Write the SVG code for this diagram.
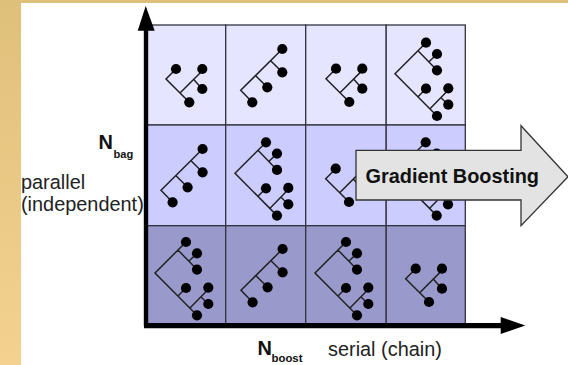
<svg xmlns="http://www.w3.org/2000/svg" width="568" height="365" viewBox="0 0 568 365">
  <style>
    .cell { stroke: #333340; stroke-width: 1.3; }
    .r0 { fill: #e5e5ff; }
    .r1 { fill: #ccccff; }
    .r2 { fill: #9999cc; }
    .tree path { fill: none; stroke: #222; stroke-width: 1.5; stroke-linejoin: miter; }
    .tree circle { fill: #000; r: 5.1px; }
    text { font-family: "Liberation Sans", Arial, sans-serif; fill: #111; }
    .lab { font-size: 19.9px; fill: #222; }
    .b { font-weight: bold; }
  </style>
  <defs>
    <linearGradient id="bg" x1="0" y1="0" x2="0" y2="1">
      <stop offset="0" stop-color="#dfc07b"/>
      <stop offset="1" stop-color="#f4d18f"/>
    </linearGradient>
    <g id="treeA" class="tree">
      <path d="M10 -10L0 0L23.3 23.3M14 14L36.3 -8.3M27.3 0L36.3 10"/>
      <circle cx="10" cy="-10"/><circle cx="36.3" cy="-10"/><circle cx="36.3" cy="10"/><circle cx="23.3" cy="23.3"/>
    </g>
    <g id="treeB" class="tree">
      <path d="M11.6 12L0 0L41.6 -41.3M15 -14.6L26.6 -3M30 -29.6L41.6 -18"/>
      <circle cx="11.6" cy="12"/><circle cx="26.6" cy="-3"/><circle cx="41.6" cy="-18"/><circle cx="41.6" cy="-41.3"/>
    </g>
    <g id="treeC" class="tree">
      <path d="M31 -31L0 0L42 42.3M23 -23L42 -3.4M34 -12L42 -19.7M23 23L31 15M35 35L53.3 16.2M46 24L53.3 31"/>
      <circle cx="31" cy="-31"/><circle cx="42" cy="-19.7"/><circle cx="42" cy="-3.4"/><circle cx="31" cy="15"/><circle cx="53.3" cy="14.6"/><circle cx="53.3" cy="31"/><circle cx="42" cy="42.3"/>
    </g>
  </defs>

  <rect id="background" width="568" height="365" fill="#fff"/>
  <rect x="0" y="0" width="21" height="365" fill="url(#bg)"/>
  <rect x="0" y="0" width="568" height="3" fill="#dfc07b"/>

  <g id="grid">
    <rect class="cell r0" x="146" y="25" width="79.7" height="100"/>
    <rect class="cell r0" x="225.7" y="25" width="80" height="100"/>
    <rect class="cell r0" x="305.7" y="25" width="80.5" height="100"/>
    <rect class="cell r0" x="386.2" y="25" width="79.1" height="100"/>
    <rect class="cell r1" x="146" y="125" width="79.7" height="100.7"/>
    <rect class="cell r1" x="225.7" y="125" width="80" height="100.7"/>
    <rect class="cell r1" x="305.7" y="125" width="80.5" height="100.7"/>
    <rect class="cell r1" x="386.2" y="125" width="79.1" height="100.7"/>
    <rect class="cell r2" x="146" y="225.7" width="79.7" height="98"/>
    <rect class="cell r2" x="225.7" y="225.7" width="80" height="98"/>
    <rect class="cell r2" x="305.7" y="225.7" width="80.5" height="98"/>
    <rect class="cell r2" x="386.2" y="225.7" width="79.1" height="98"/>
  </g>

  <g id="trees">
    <use id="tree-0-0" href="#treeA" x="166" y="79"/>
    <use id="tree-0-1" href="#treeB" x="240.7" y="90.3"/>
    <use id="tree-0-2" href="#treeA" x="326" y="78.7"/>
    <use id="tree-0-3" href="#treeC" x="395" y="73.7"/>
    <use id="tree-1-0" href="#treeB" x="161" y="190.3"/>
    <use id="tree-1-1" href="#treeC" x="235" y="173.3"/>
    <use id="tree-1-2" href="#treeA" x="325.7" y="178.7"/>
    <use id="tree-1-3" href="#treeC" x="394.7" y="173.3"/>
    <use id="tree-2-0" href="#treeC" x="155" y="273"/>
    <use id="tree-2-1" href="#treeB" x="241" y="290.3"/>
    <use id="tree-2-2" href="#treeC" x="315" y="273"/>
    <use id="tree-2-3" href="#treeA" x="405.7" y="278.7"/>
  </g>

  <g id="connectors">
    <path d="M146 326V28" stroke="#000" stroke-width="4.4" fill="none"/>
    <path d="M145.7 6L154.7 30.7H137.7Z" fill="#000"/>
    <path d="M144 325.7H503" stroke="#000" stroke-width="5.2" fill="none"/>
    <path d="M525.3 325.5L500.7 317V334Z" fill="#000"/>
  </g>

  <g id="gradient-boosting">
    <path d="M356 150.3H521V125.7L568 176.7L521 225.7V200H356Z" fill="#e3e3e3" stroke="#333" stroke-width="1.3"/>
    <text class="b" x="365.5" y="183" font-size="19.9px">Gradient Boosting</text>
  </g>

  <g id="labels">
    <text class="lab" x="21" y="189">parallel</text>
    <text class="lab" x="21" y="211">(independent)</text>
    <text class="lab" x="328" y="355.5">serial (chain)</text>
    <text class="b" x="98.5" y="149" font-size="19.9px">N</text>
    <text class="b" x="113.5" y="157.5" font-size="11.1px">bag</text>
    <text class="b" x="257.5" y="354.5" font-size="19.9px">N</text>
    <text class="b" x="271.5" y="361.5" font-size="11.4px">boost</text>
  </g>
</svg>
